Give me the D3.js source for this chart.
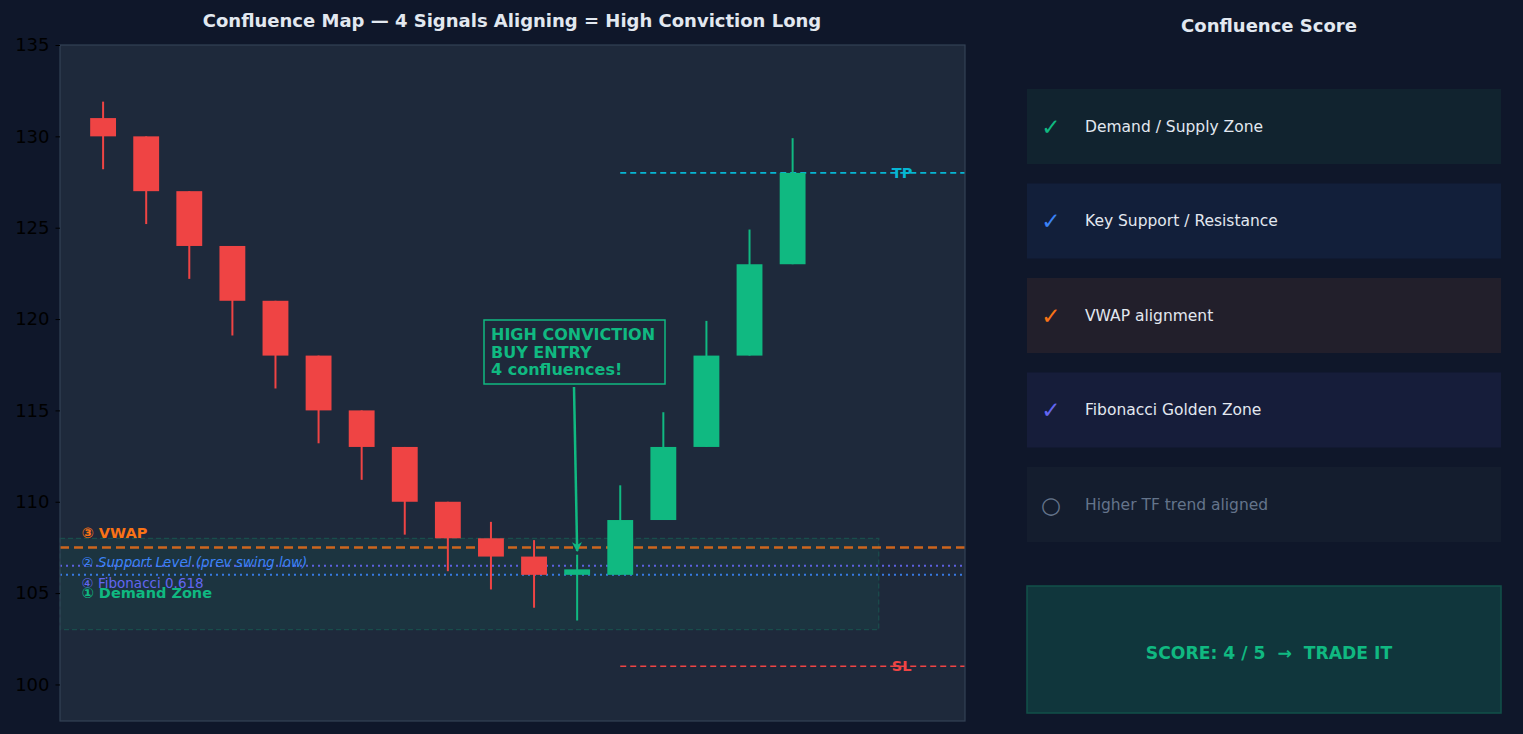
<!DOCTYPE html>
<html>
<head>
<meta charset="utf-8">
<script src="https://cdn.jsdelivr.net/npm/d3@7/dist/d3.min.js"></script>
<style>
  html, body { margin: 0; padding: 0; background: #0f172a; }
  svg { display: block; font-family: "DejaVu Sans", sans-serif; }
</style>
</head>
<body>
<svg id="chart" width="1523" height="734"></svg>
<script>
// ---------- DATA ----------
const candleIndex = [0,1,2,3,4,5,6,7,8,9,10,11,12,13,14,15,16];
const opens  = [131,130,127,124,121,118,115,113,110,108,107,106,106,109,113,118,123];
const closes = [130,127,124,121,118,115,113,110,108,107,106,106.3,109,113,118,123,128];
const highs  = [131.9,130,127,124,121,118,115,113,110,108.9,107.9,107.1,110.9,114.9,119.9,124.9,129.9];
const lows   = [128.2,125.2,122.2,119.1,116.2,113.2,111.2,108.2,106.2,105.2,104.2,103.5,106,109,113,118,123];
const yTicks = [100,105,110,115,120,125,130,135];

const demandZone = [103, 108];
const vwapLevel = 107.5;
const fibLevel = 106.5;
const supportLevel = 106.0;
const tpLevel = 128;
const slLevel = 101;

const scoreItems = ["Demand / Supply Zone","Key Support / Resistance","VWAP alignment","Fibonacci Golden Zone","Higher TF trend aligned"];
const scoreChecked = [true,true,true,true,false];
const scoreColors = ["#10b981","#3b82f6","#f97316","#6366f1","#64748b"];
const scoreFills = ["#11232f","#121f3a","#221f2b","#161d3a","#141d2e"];

// ---------- LAYOUT ----------
const svg = d3.select("#chart");
const W = 1523, H = 734;
svg.append("rect").attr("width", W).attr("height", H).attr("fill", "#0f172a");

const x = d3.scaleLinear().domain([-1, 20]).range([60, 965]);
const y = d3.scaleLinear().domain([98, 135]).range([721, 45]);

// plot background
svg.append("rect").attr("x", 60).attr("y", 45).attr("width", 905).attr("height", 676)
  .attr("fill", "#1e293b");

// title
svg.append("text").attr("x", 512).attr("y", 27).attr("text-anchor", "middle")
  .attr("fill", "#e2e8f0").attr("font-weight", "bold").attr("font-size", 18)
  .text("Confluence Map — 4 Signals Aligning = High Conviction Long");

const g = svg.append("g");

// demand zone
g.append("rect")
  .attr("x", x(-1)).attr("y", y(demandZone[1]))
  .attr("width", x(18) - x(-1)).attr("height", y(demandZone[0]) - y(demandZone[1]))
  .attr("fill", "rgba(16,185,129,0.08)")
  .attr("stroke", "rgba(16,185,129,0.22)").attr("stroke-width", 1.2)
  .attr("stroke-dasharray", "5,3");

// fib & support dotted lines
g.append("line").attr("x1", x(-1)).attr("x2", x(20)).attr("y1", y(fibLevel)).attr("y2", y(fibLevel))
  .attr("stroke", "#6366f1").attr("stroke-width", 2).attr("stroke-dasharray", "2,4").attr("opacity", 0.9);
g.append("line").attr("x1", x(-1)).attr("x2", x(20)).attr("y1", y(supportLevel)).attr("y2", y(supportLevel))
  .attr("stroke", "#3b82f6").attr("stroke-width", 2).attr("stroke-dasharray", "2,4").attr("opacity", 0.9);
// vwap
g.append("line").attr("x1", x(-1)).attr("x2", x(20)).attr("y1", y(vwapLevel)).attr("y2", y(vwapLevel))
  .attr("stroke", "#f97316").attr("stroke-width", 2.5).attr("stroke-dasharray", "9,5").attr("opacity", 0.8);

// TP / SL
g.append("line").attr("x1", x(12)).attr("x2", x(20)).attr("y1", y(tpLevel)).attr("y2", y(tpLevel))
  .attr("stroke", "#06b6d4").attr("stroke-width", 1.6).attr("stroke-dasharray", "6,4");
g.append("line").attr("x1", x(12)).attr("x2", x(20)).attr("y1", y(slLevel)).attr("y2", y(slLevel))
  .attr("stroke", "#ef4444").attr("stroke-width", 1.6).attr("stroke-dasharray", "6,4");
g.append("text").attr("x", x(18.3)).attr("y", y(tpLevel)).attr("dy", "0.35em").attr("fill", "#06b6d4")
  .attr("font-weight", "bold").attr("font-size", 14.5).text("TP");
g.append("text").attr("x", x(18.3)).attr("y", y(slLevel)).attr("dy", "0.35em").attr("fill", "#ef4444")
  .attr("font-weight", "bold").attr("font-size", 14.5).text("SL");

// candles
const bw = 0.6;
candleIndex.forEach((i, k) => {
  const up = closes[k] >= opens[k];
  const col = up ? "#10b981" : "#ef4444";
  g.append("line").attr("x1", x(i)).attr("x2", x(i)).attr("y1", y(highs[k])).attr("y2", y(lows[k]))
    .attr("stroke", col).attr("stroke-width", 2);
  const top = Math.max(opens[k], closes[k]), bot = Math.min(opens[k], closes[k]);
  g.append("rect").attr("x", x(i - bw / 2)).attr("y", y(top))
    .attr("width", x(i + bw / 2) - x(i - bw / 2)).attr("height", Math.max(1, y(bot) - y(top)))
    .attr("fill", col);
});

// level labels
const labels = [
  {t: "③ VWAP", v: 108.3, c: "#f97316", w: "bold", s: "normal", f: 14.5},
  {t: "② Support Level (prev swing low)", v: 106.7, c: "#3b82f6", w: "normal", s: "italic", f: 13.5},
  {t: "④ Fibonacci 0.618", v: 105.55, c: "#6366f1", w: "normal", s: "normal", f: 13.5},
  {t: "① Demand Zone", v: 105.0, c: "#10b981", w: "bold", s: "normal", f: 14.5}
];
labels.forEach(l => {
  g.append("text").attr("x", x(-0.5)).attr("y", y(l.v)).attr("dy", "0.35em")
    .attr("fill", l.c).attr("font-weight", l.w).attr("font-style", l.s).attr("font-size", l.f)
    .text(l.t);
});

// annotation box
const ann = g.append("g");
ann.append("rect").attr("x", 484).attr("y", 320).attr("width", 181).attr("height", 64)
  .attr("fill", "#1e293b").attr("stroke", "#10b981").attr("stroke-width", 1.5);
const annLines = ["HIGH CONVICTION", "BUY ENTRY", "4 confluences!"];
annLines.forEach((t, i) => {
  ann.append("text").attr("x", 491).attr("y", 340 + i * 17.5).attr("fill", "#10b981")
    .attr("font-weight", "bold").attr("font-size", 16).text(t);
});
// arrow
svg.append("defs").append("marker").attr("id", "arr").attr("viewBox", "0 0 10 10")
  .attr("refX", 9).attr("refY", 5).attr("markerWidth", 4).attr("markerHeight", 4)
  .attr("orient", "auto").attr("markerUnits", "strokeWidth")
  .append("path").attr("d", "M0,0 L10,5 L0,10 L3,5 z").attr("fill", "#10b981");
g.append("line").attr("x1", 574).attr("y1", 387).attr("x2", x(11)).attr("y2", y(107.3))
  .attr("stroke", "#10b981").attr("stroke-width", 2.5).attr("marker-end", "url(#arr)");

// plot border
svg.append("rect").attr("x", 60).attr("y", 45).attr("width", 905).attr("height", 676)
  .attr("fill", "none").attr("stroke", "#334155").attr("stroke-width", 1.2);

// y axis
const yAxis = d3.axisLeft(y).tickValues(yTicks).tickSize(4.5).tickPadding(6).tickFormat(d3.format("d"));
const ya = svg.append("g").attr("transform", "translate(60,0)").call(yAxis);
ya.select(".domain").remove();
ya.selectAll(".tick line").attr("stroke", "#000");
ya.selectAll(".tick text").attr("fill", "#000").attr("font-size", 18)
  .attr("font-family", "DejaVu Sans, sans-serif");

// ---------- RIGHT PANEL ----------
svg.append("text").attr("x", 1269).attr("y", 32).attr("text-anchor", "middle")
  .attr("fill", "#e2e8f0").attr("font-weight", "bold").attr("font-size", 18)
  .text("Confluence Score");

const rowY = d3.scaleLinear().domain([0, 4]).range([89, 467]);
scoreItems.forEach((t, i) => {
  const yy = rowY(i);
  svg.append("rect").attr("x", 1027).attr("y", yy).attr("width", 474).attr("height", 75)
    .attr("fill", scoreFills[i]);
  svg.append("text").attr("x", 1051).attr("y", yy + 37.5).attr("dy", "0.35em")
    .attr("text-anchor", "middle").attr("fill", scoreColors[i]).attr("font-size", 23)
    .text(scoreChecked[i] ? "✓" : "○");
  svg.append("text").attr("x", 1085).attr("y", yy + 37.5).attr("dy", "0.35em")
    .attr("fill", scoreChecked[i] ? "#e2e8f0" : "#64748b").attr("font-size", 15.5)
    .text(t);
});

svg.append("rect").attr("x", 1027).attr("y", 586).attr("width", 474).attr("height", 127)
  .attr("fill", "#10363c").attr("stroke", "#125149").attr("stroke-width", 1.5);
svg.append("text").attr("x", 1269).attr("y", 653).attr("dy", "0.35em").attr("text-anchor", "middle")
  .attr("fill", "#10b981").attr("font-weight", "bold").attr("font-size", 17.2)
  .attr("xml:space", "preserve").style("white-space", "pre")
  .text("SCORE: 4 / 5  →  TRADE IT");
</script>
</body>
</html>
